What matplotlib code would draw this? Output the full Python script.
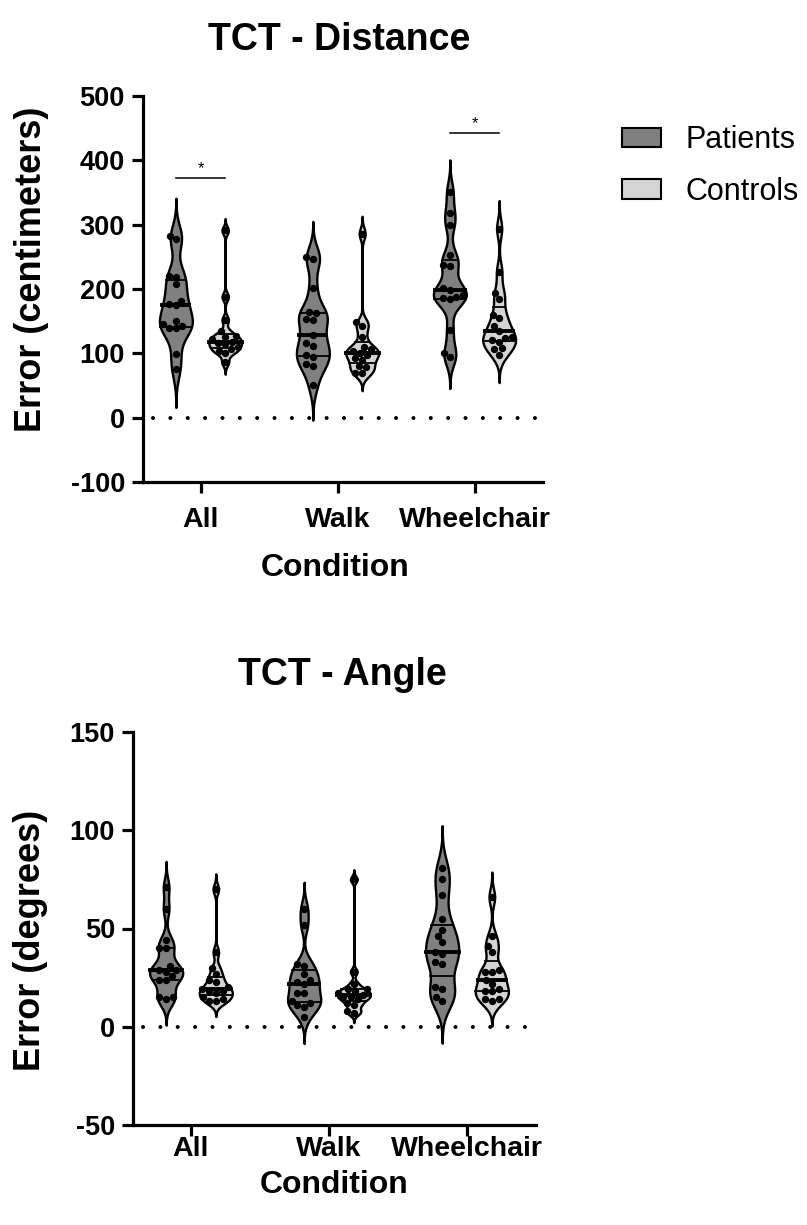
import numpy as np
import matplotlib.pyplot as plt
from matplotlib.patches import Patch

plt.rcParams['font.family'] = ['Liberation Sans', 'DejaVu Sans']
plt.rcParams['axes.unicode_minus'] = False

conditions = ['All', 'Walk', 'Wheelchair']
groups = ['Patients', 'Controls']
colors = ['#808080', '#d4d4d4']

# TCT - Distance (cm), one list per condition
dist_patients = [
    [282, 277, 220, 219, 208, 182, 176, 175, 150, 145, 143, 139, 140, 99, 75],
    [250, 246, 201, 164, 162, 154, 152, 129, 116, 112, 97, 95, 83, 81, 51],
    [351, 318, 300, 253, 238, 236, 201, 199, 190, 188, 186, 184, 137, 100, 95],
]
dist_controls = [
    [291, 188, 152, 134, 127, 125, 122, 118, 116, 114, 110, 106, 104, 100, 86],
    [286, 148, 142, 126, 110, 107, 104, 101, 98, 92, 90, 80, 78, 70, 69],
    [294, 227, 194, 185, 160, 155, 142, 134, 126, 124, 121, 118, 108, 106, 98],
]
# TCT - Angle (degrees)
angle_patients = [
    [71, 60, 44, 40, 40, 31, 29, 29, 28, 26, 24, 24, 15, 15, 14],
    [60, 52, 32, 31, 27, 24, 23, 22, 17, 17, 13, 12, 11, 10, 5],
    [81, 75, 67, 55, 49, 46, 43, 38, 37, 33, 32, 20, 19, 15, 13],
]
angle_controls = [
    [70, 38, 30, 27, 24, 23, 20, 19, 18, 18, 17, 15, 14, 13, 13],
    [75, 28, 22, 19, 19, 18, 17, 16, 15, 15, 14, 12, 11, 8, 7],
    [66, 46, 41, 38, 29, 28, 28, 24, 22, 19, 18, 18, 14, 14, 13],
]
dist_sig = {0: 372, 2: 442}   # condition index -> bar height
angle_sig = {}

offset = 0.18
halfw = 0.12


def kde(v, grid, bw):
    z = (grid[:, None] - v[None, :]) / bw
    return np.exp(-0.5 * z ** 2).sum(axis=1)


def violin(ax, x, vals, color):
    v = np.asarray(vals, float)
    q1, med, q3 = np.percentile(v, [25, 50, 75])
    sd = v.std(ddof=1)
    bw = 0.9 * min(sd, (q3 - q1) / 1.34) * len(v) ** -0.2 * 0.7
    grid = np.linspace(v.min() - 3 * bw, v.max() + 3 * bw, 500)
    d = kde(v, grid, bw)
    d = d / d.max() * halfw
    ax.fill_betweenx(grid, x - d, x + d, facecolor=color, edgecolor='black',
                     lw=1.7, zorder=2)
    for q, lw in [(q1, 1.3), (med, 2.8), (q3, 1.3)]:
        w = np.interp(q, grid, d)
        ax.plot([x - w, x + w], [q, q], color='black', lw=lw, zorder=3)


def swarm(ax, x, vals, diam=7):
    v = np.sort(np.asarray(vals, float))
    pts = ax.transData.transform(np.column_stack([np.full(len(v), x), v]))
    placed = []
    for px, py in pts:
        cands = [px]
        blocks = []
        for qx, qy in placed:
            dy = abs(qy - py)
            if dy < diam:
                dx = np.sqrt(diam ** 2 - dy ** 2)
                blocks.append((qx - dx, qx + dx))
                cands += [qx - dx, qx + dx]
        cands.sort(key=lambda c: abs(c - px))
        for c in cands:
            if all(not (lo + 1e-6 < c < hi - 1e-6) for lo, hi in blocks):
                placed.append((c, py))
                break
    xy = ax.transData.inverted().transform(np.array(placed))
    ax.scatter(xy[:, 0], xy[:, 1], s=28, color='black', zorder=4, linewidths=0)


def panel(ax, pat, con, sig, ylim, yticks, title, title_x, ylabel, ylab_x, ylab_y,
          xlab_x, xlab_y, tickpad):
    ax.set_xlim(-0.42, 2.5)
    ax.set_ylim(*ylim)
    for i in range(len(conditions)):
        for j, (data, c) in enumerate([(pat[i], colors[0]), (con[i], colors[1])]):
            xc = i + (offset if j else -offset)
            violin(ax, xc, data, c)
            swarm(ax, xc, data)
    for i, h in sig.items():
        ax.plot([i - offset, i + offset], [h, h], color='black', lw=1.1)
        ax.text(i, h + 4, '*', ha='center', va='bottom', fontsize=12)
    ax.axhline(0, xmin=0.025, xmax=0.985, color='black', lw=2.9,
               linestyle=(0, (0.01, 4.3)), dash_capstyle='round', zorder=1)
    ax.set_yticks(yticks)
    ax.set_xticks(range(len(conditions)))
    ax.set_xticklabels(conditions)
    for s in ['top', 'right']:
        ax.spines[s].set_visible(False)
    for s in ['left', 'bottom']:
        ax.spines[s].set_linewidth(2.3)
    ax.tick_params(width=2.3, length=8)
    ax.tick_params(axis='y', labelsize=19.5, pad=5)
    ax.tick_params(axis='x', labelsize=20.5, pad=tickpad)
    for lab in ax.get_xticklabels() + ax.get_yticklabels():
        lab.set_fontweight('bold')
    ax.set_ylabel(ylabel, fontsize=26, fontweight='bold')
    ax.yaxis.set_label_coords(ylab_x, ylab_y)
    ax.set_xlabel('Condition', fontsize=23, fontweight='bold')
    ax.xaxis.set_label_coords(xlab_x, xlab_y)
    ax.text(title_x, 1.145, title, transform=ax.transAxes, ha='center', va='center',
            fontsize=27, fontweight='bold')


fig = plt.figure(figsize=(8.07, 12.25), dpi=100)
ax1 = fig.add_axes([143 / 807, 1 - 482 / 1225, 400 / 807, 386 / 1225])
ax2 = fig.add_axes([133 / 807, 1 - 1125 / 1225, 403 / 807, 393 / 1225])

panel(ax1, dist_patients, dist_controls, dist_sig, (-100, 500), range(-100, 501, 100),
      'TCT - Distance', 0.49, 'Error (centimeters)', -0.235, 0.55, 0.48, -0.185, 10)
panel(ax2, angle_patients, angle_controls, angle_sig, (-50, 150), range(-50, 151, 50),
      'TCT - Angle', 0.52, 'Error (degrees)', -0.21, 0.47, 0.5, -0.115, 0)

handles = [Patch(facecolor=c, edgecolor='black', lw=1.5) for c in colors]
fig.legend(handles, groups, loc='upper left', bbox_to_anchor=(594 / 807, 1 - 98 / 1225),
           frameon=False, fontsize=22, handlelength=1.3, handleheight=0.6,
           handletextpad=0.8, labelspacing=0.7)

fig.savefig('out.png', dpi=100)
